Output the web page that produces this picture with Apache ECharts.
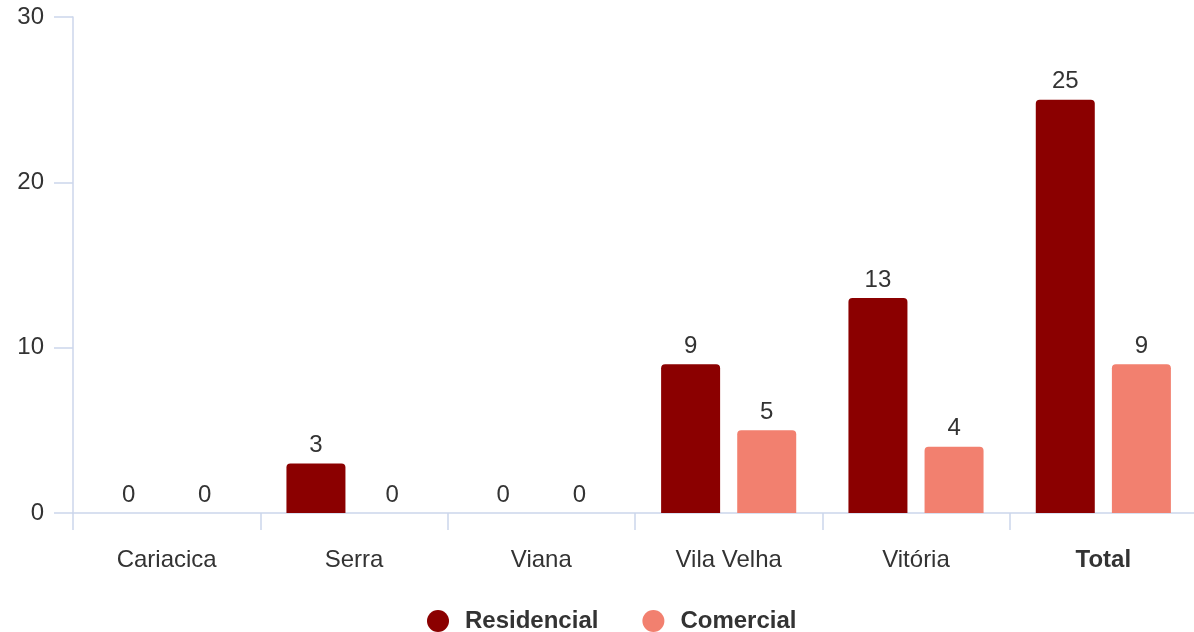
<!DOCTYPE html>
<html><head><meta charset="utf-8">
<script src="https://cdn.jsdelivr.net/npm/echarts@6/dist/echarts.min.js"></script>
<style>html,body{margin:0;padding:0;background:#fff}#c{width:1194px;height:632px}</style>
</head><body><div id="c"></div>
<script>
const categories = ['Cariacica','Serra','Viana','Vila Velha','Vitória','Total'];
const residencial = [0,3,0,9,13,25];
const comercial = [0,0,0,5,4,9];
const yTicks = [0,10,20,30];

const chart = echarts.init(document.getElementById('c'));
const font = 'Liberation Sans, Arial, sans-serif';
const axisColor = '#ccd6eb';
chart.setOption({
  animation: false,
  textStyle: {fontFamily: font},
  grid: {left: 73, width: 1124, top: 17, bottom: 119, containLabel: false, outerBoundsMode: 'none'},
  legend: {
    top: 609, left: 427, padding: 0, itemGap: 44,
    icon: 'circle', itemWidth: 22, itemHeight: 22,
    textStyle: {fontSize: 24, fontWeight: 'bold', color: '#333', fontFamily: font, padding: [0,0,0,11]},
    data: ['Residencial','Comercial']
  },
  xAxis: {
    type: 'category', data: categories,
    axisLine: {lineStyle: {color: axisColor, width: 1.5}},
    axisTick: {show: true, length: 17, lineStyle: {color: axisColor, width: 1.5}},
    axisLabel: {
      fontSize: 24, color: '#333', margin: 35, fontFamily: font,
      formatter: v => v === 'Total' ? '{b|' + v + '}' : v,
      rich: {b: {fontWeight: 'bold', fontSize: 24, color: '#333', fontFamily: font}}
    }
  },
  yAxis: {
    type: 'value', min: yTicks[0], max: yTicks[yTicks.length-1], interval: 10,
    axisLine: {show: true, lineStyle: {color: axisColor, width: 1.5}},
    axisTick: {show: true, length: 19, lineStyle: {color: axisColor, width: 1.5}},
    splitLine: {show: false},
    axisLabel: {fontSize: 24, color: '#333', margin: 29, fontFamily: font}
  },
  series: [
    {name: 'Residencial', type: 'bar', data: residencial, barWidth: 59, barGap: '29%',
     itemStyle: {color: '#8b0000', borderRadius: [4,4,0,0]},
     label: {show: true, position: 'top', fontSize: 24, color: '#333', distance: 6, fontFamily: font}},
    {name: 'Comercial', type: 'bar', data: comercial, barWidth: 59,
     itemStyle: {color: '#f2806f', borderRadius: [4,4,0,0]},
     label: {show: true, position: 'top', fontSize: 24, color: '#333', distance: 6, fontFamily: font}}
  ]
});
</script></body></html>
